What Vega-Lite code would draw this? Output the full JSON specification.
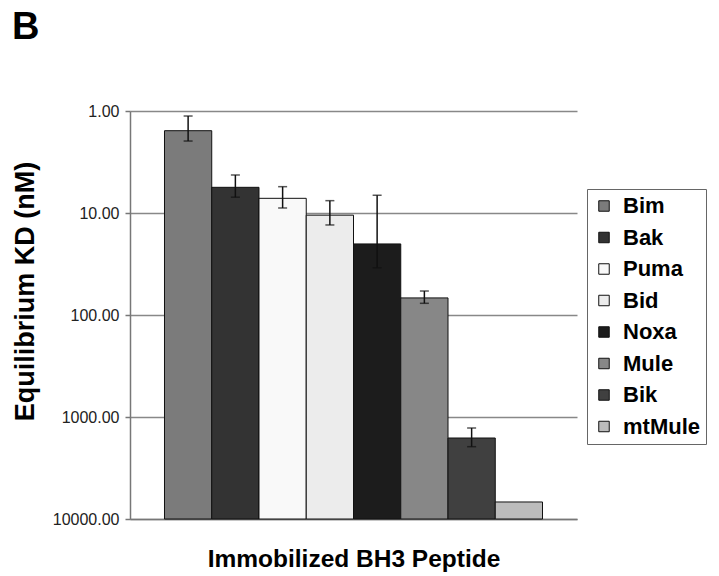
{
  "$schema": "https://vega.github.io/schema/vega-lite/v6.json",
  "autosize": {"type": "none"},
  "padding": {"left": 130, "top": 111, "right": 142, "bottom": 57},
  "width": 447,
  "height": 408,
  "background": "white",
  "config": {"font": "Liberation Sans", "view": {"stroke": null}},
  "title": {"text": "B", "anchor": "start", "frame": "group", "dx": -118, "offset": 56, "fontSize": 38, "fontWeight": "bold", "color": "#000", "font": "Liberation Sans"},
  "data": {"values": [
    {"peptide": "Bim", "kd": 1.56, "lo": 1.12, "hi": 1.97},
    {"peptide": "Bak", "kd": 5.6, "lo": 4.24, "hi": 7.0},
    {"peptide": "Puma", "kd": 7.18, "lo": 5.52, "hi": 8.93},
    {"peptide": "Bid", "kd": 10.5, "lo": 7.57, "hi": 13.1},
    {"peptide": "Noxa", "kd": 20.1, "lo": 6.7, "hi": 34.4},
    {"peptide": "Mule", "kd": 68, "lo": 58.2, "hi": 76.8},
    {"peptide": "Bik", "kd": 1607, "lo": 1282, "hi": 1955},
    {"peptide": "mtMule", "kd": 6810, "lo": null, "hi": null}
  ]},
  "encoding": {
    "x": {"field": "peptide", "type": "nominal", "sort": null,
      "scale": {"paddingInner": 0, "paddingOuter": 0.73},
      "axis": {"labels": false, "ticks": false, "domain": true, "domainColor": "#777", "domainWidth": 1.5,
        "title": "Immobilized BH3 Peptide", "titleFontSize": 24.5, "titleFontWeight": "bold", "titleColor": "#000", "titlePadding": 28}}
  },
  "layer": [
    {
      "mark": {"type": "bar", "stroke": "#111", "strokeWidth": 1},
      "encoding": {
        "y": {"field": "kd", "type": "quantitative",
          "scale": {"type": "log", "domain": [1, 10000], "reverse": true, "nice": false},
          "axis": {"values": [1, 10, 100, 1000, 10000], "format": ".2f", "grid": true, "gridColor": "#888", "gridWidth": 1.5,
            "domainColor": "#777", "domainWidth": 1.5, "tickColor": "#777", "tickSize": 5, "tickWidth": 1.5,
            "labelFontSize": 16, "labelColor": "#222", "labelPadding": 6,
            "title": "Equilibrium KD (nM)", "titleFontSize": 27, "titleFontWeight": "bold", "titleColor": "#000", "titlePadding": 13, "titleY": 180}},
        "y2": {"datum": 10000},
        "color": {"field": "peptide", "type": "nominal", "sort": null,
          "scale": {"domain": ["Bim", "Bak", "Puma", "Bid", "Noxa", "Mule", "Bik", "mtMule"],
            "range": ["#7b7b7b", "#333333", "#f9f9f9", "#ececec", "#1c1c1c", "#878787", "#404040", "#bcbcbc"]},
          "legend": {"title": null, "orient": "none", "legendX": 457, "legendY": 78,
            "strokeColor": "#666", "padding": 6, "symbolType": "square", "symbolSize": 110,
            "symbolStrokeColor": "#111", "symbolStrokeWidth": 1, "labelFontSize": 22, "labelFontWeight": "bold",
            "labelColor": "#000", "labelOffset": 8, "rowPadding": 9.5, "labelLimit": 200}}
      }
    },
    {
      "mark": {"type": "rule", "color": "#111", "strokeWidth": 1.5},
      "encoding": {"y": {"field": "lo", "type": "quantitative"}, "y2": {"field": "hi"}}
    },
    {
      "mark": {"type": "tick", "color": "#111", "size": 9, "thickness": 1.5},
      "encoding": {"y": {"field": "lo", "type": "quantitative"}}
    },
    {
      "mark": {"type": "tick", "color": "#111", "size": 9, "thickness": 1.5},
      "encoding": {"y": {"field": "hi", "type": "quantitative"}}
    }
  ]
}
